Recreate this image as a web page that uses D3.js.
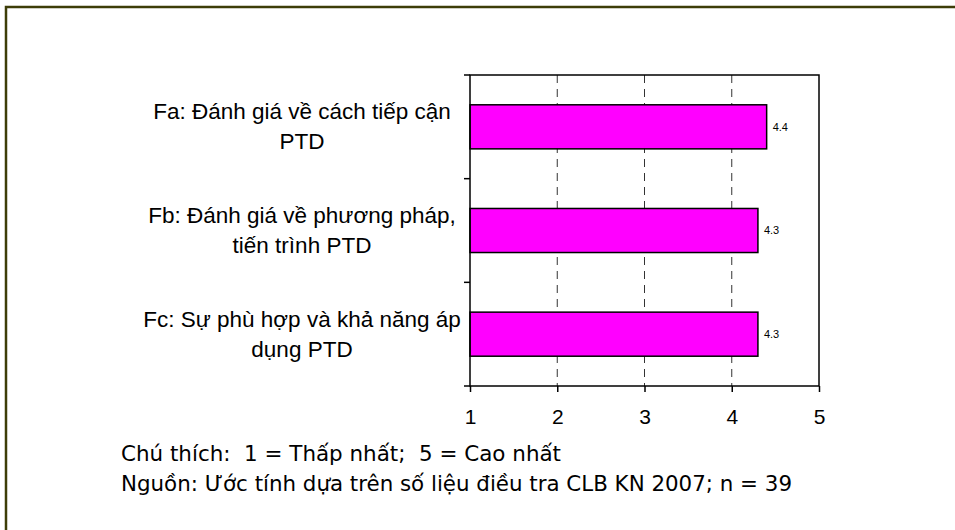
<!DOCTYPE html>
<html>
<head>
<meta charset="utf-8">
<script src="https://cdn.jsdelivr.net/npm/d3@7"></script>
<style>
  body { margin: 0; background: #fff; }
  svg { display: block; }
</style>
</head>
<body>
<div id="chart"></div>
<script>
// data
var categories = [
    ["Fa: Đánh giá về cách tiếp cận", "PTD"],
    ["Fb: Đánh giá về phương pháp,", "tiến trình PTD"],
    ["Fc: Sự phù hợp và khả năng áp", "dụng PTD"]
];
var values = [4.4, 4.3, 4.3];
var xTicks = [1, 2, 3, 4, 5];
var notes = [
    "Chú thích:  1 = Thấp nhất;  5 = Cao nhất",
    "Nguồn: Ước tính dựa trên số liệu điều tra CLB KN 2007; n = 39"
];

var width = 955;
var height = 530;

var plot = {
    left: 470,
    right: 819,
    top: 75,
    bottom: 386
};

var svg = d3.select("#chart")
    .append("svg")
    .attr("width", width)
    .attr("height", height);

// outer frame (only top and left edges are visible)
svg.append("path")
    .attr("d", "M6," + height + " V7 H" + width)
    .style("fill", "none")
    .style("stroke", "#3d3d08")
    .style("stroke-width", 2.5);

var x = d3.scaleLinear()
    .domain([1, 5])
    .range([plot.left, plot.right]);

var y = d3.scaleBand()
    .domain(d3.range(categories.length))
    .range([plot.top, plot.bottom])
    .padding(0);

var barH = y.bandwidth() * 0.425;

// gridlines
svg.append("g")
    .attr("class", "grid")
    .selectAll("line")
    .data(xTicks.slice(1, -1))
    .enter()
    .append("line")
    .attr("x1", function(d) { return x(d); })
    .attr("x2", function(d) { return x(d); })
    .attr("y1", plot.top)
    .attr("y2", plot.bottom)
    .style("stroke", "#333")
    .style("stroke-width", 1)
    .style("stroke-dasharray", "8,6");

// bars
svg.append("g")
    .attr("class", "bars")
    .selectAll("rect")
    .data(values)
    .enter()
    .append("rect")
    .attr("x", x(1))
    .attr("y", function(d, i) { return y(i) + (y.bandwidth() - barH) / 2; })
    .attr("width", function(d) { return x(d) - x(1); })
    .attr("height", barH)
    .style("fill", "#ff00ff")
    .style("stroke", "#000")
    .style("stroke-width", 1.5);

// value labels
svg.append("g")
    .selectAll("text")
    .data(values)
    .enter()
    .append("text")
    .attr("x", function(d) { return x(d) + 6; })
    .attr("y", function(d, i) { return y(i) + y.bandwidth() / 2; })
    .attr("dy", "0.35em")
    .style("font-family", "'Liberation Sans', Arial, sans-serif")
    .style("font-size", "11px")
    .text(function(d) { return d.toFixed(1); });

// plot frame
svg.append("rect")
    .attr("x", plot.left)
    .attr("y", plot.top)
    .attr("width", plot.right - plot.left)
    .attr("height", plot.bottom - plot.top)
    .style("fill", "none")
    .style("stroke", "#000")
    .style("stroke-width", 1.5);

// x axis
var xAxis = svg.append("g")
    .attr("transform", "translate(0," + plot.bottom + ")")
    .call(d3.axisBottom(x).tickValues(xTicks).tickFormat(d3.format("d")).tickSize(6).tickPadding(17));

xAxis.select(".domain").remove();
xAxis.selectAll("line").style("stroke", "#000").style("stroke-width", 1.5);
xAxis.selectAll("text")
    .style("font-family", "'Liberation Sans', Arial, sans-serif")
    .style("font-size", "21px")
    .style("fill", "#000");

// y ticks at band edges
var edges = d3.range(categories.length + 1).map(function(i) {
    return plot.top + i * y.step();
});
svg.append("g")
    .selectAll("line")
    .data(edges)
    .enter()
    .append("line")
    .attr("x1", plot.left - 6)
    .attr("x2", plot.left)
    .attr("y1", function(d) { return d; })
    .attr("y2", function(d) { return d; })
    .style("stroke", "#000")
    .style("stroke-width", 1.5);

// category labels
var labelX = 302;
var lineGap = 30;
var cat = svg.append("g")
    .selectAll("text")
    .data(categories)
    .enter()
    .append("text")
    .attr("text-anchor", "middle")
    .style("font-family", "'Liberation Sans', Arial, sans-serif")
    .style("font-size", "22.5px")
    .style("fill", "#000");

cat.each(function(lines, i) {
    var cy = y(i) + y.bandwidth() / 2;
    d3.select(this)
        .selectAll("tspan")
        .data(lines)
        .enter()
        .append("tspan")
        .attr("x", labelX)
        .attr("y", function(d, j) { return cy - 7.5 + j * lineGap; })
        .text(function(d) { return d; });
});

// notes under the chart
var noteWidths = [440, 671];
svg.append("g")
    .selectAll("text")
    .data(notes)
    .enter()
    .append("text")
    .attr("x", 121)
    .attr("y", function(d, i) { return 461 + i * 30; })
    .attr("textLength", function(d, i) { return noteWidths[i]; })
    .attr("lengthAdjust", "spacingAndGlyphs")
    .style("white-space", "pre")
    .style("font-family", "'DejaVu Sans', Tahoma, sans-serif")
    .style("font-size", "21px")
    .style("fill", "#000")
    .text(function(d) { return d; });
</script>
</body>
</html>
